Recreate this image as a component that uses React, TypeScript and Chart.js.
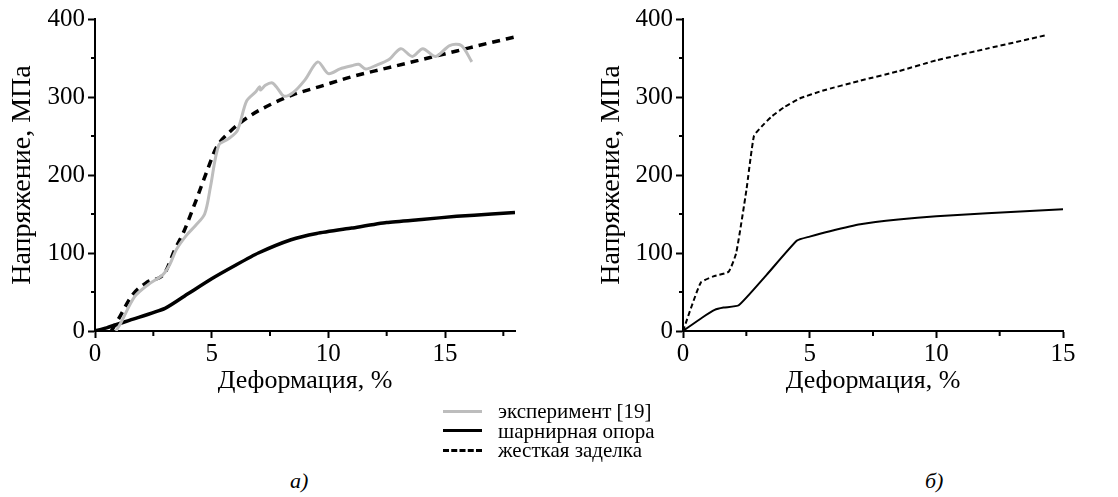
import React, { useEffect, useRef } from "react";
import { Chart, registerables } from "chart.js";

Chart.register(...registerables);

// ---- Panel (а) data ----
const expLeftX = [0.9, 1.1, 1.7, 2.3, 2.9, 3.2, 3.5, 3.9, 4.3, 4.7, 4.95, 5.3, 5.7, 6.1, 6.5, 6.9, 7.05, 7.1, 7.3, 7.6, 7.85, 8.1, 8.5, 9.0, 9.55, 10.0, 10.5, 11.0, 11.3, 11.6, 12.0, 12.6, 13.1, 13.6, 14.05, 14.6, 15.2, 15.7, 16.15];
const expLeftY = [0, 10, 44, 60, 72, 85, 105, 122, 135, 150, 185, 238, 246, 257, 295, 307, 313, 309, 315, 318, 310, 301, 306, 322, 345, 330, 336, 340, 342, 336, 340, 348, 362, 352, 362, 352, 366, 366, 345];

const hingeLeftX = [0, 0.5, 1.5, 3.0, 4.0, 5.0, 6.0, 7.0, 8.4, 9.5, 11, 12.5, 14, 15.5, 17, 18];
const hingeLeftY = [0, 4, 14, 29, 48, 67, 84, 100, 117, 125, 132, 139, 143, 147, 150, 152];

const rigidLeftX = [0.7, 1.0, 1.6, 2.2, 3.0, 3.4, 3.8, 4.3, 4.8, 5.2, 5.8, 6.6, 7.5, 8.5, 9.7, 11, 12.5, 14, 15.5, 17, 18];
const rigidLeftY = [0, 15, 46, 62, 75, 103, 127, 165, 205, 235, 256, 275, 290, 303, 314, 326, 337, 348, 359, 370, 377];

// ---- Panel (б) data ----
const hingeRightX = [0, 0.75, 1.25, 1.6, 2.2, 3.3, 4.5, 5.0, 5.8, 7.0, 8.5, 10, 12, 15];
const hingeRightY = [0, 17, 27, 30, 33, 72, 116, 121, 128, 137, 143, 147, 151, 156];

const rigidRightX = [0, 0.7, 1.2, 1.8, 2.1, 2.5, 2.8, 3.1, 3.5, 4.0, 4.6, 5.5, 7, 8.5, 10, 12, 14.3];
const rigidRightY = [0, 62, 70, 76, 100, 180, 250, 262, 275, 287, 298, 308, 321, 333, 347, 362, 379];

// ---- Axes / labels ----
const yTicks = [0, 100, 200, 300, 400];
const yMinorTicks = [50, 150, 250, 350];
const xTicksLeft = [0, 5, 10, 15];
const xMinorLeft = [2.5, 7.5, 12.5, 17.5];
const xTicksRight = [0, 5, 10, 15];
const xMinorRight = [2.5, 7.5, 12.5];
const yTitle = "Напряжение, МПа";
const xTitle = "Деформация, %";
const legendLabels = ["эксперимент [19]", "шарнирная опора", "жесткая заделка"];
const panelLabels = ["а)", "б)"];

const FONT = "'Liberation Serif', Tinos, 'Times New Roman', Times, 'Nimbus Roman', 'DejaVu Serif', serif";
const GRAY = "#bdbdbd";

const pts = (xs: number[], ys: number[]) => xs.map((x, i) => ({ x, y: ys[i] }));

function makeMinorPlugin(xMinor: number[], yMinor: number[]) {
  return {
    id: "minorTicks",
    afterDraw(chart: any) {
      const ctx = chart.ctx;
      const xs = chart.scales.x;
      const ys = chart.scales.y;
      const { left, bottom } = chart.chartArea;
      ctx.save();
      ctx.strokeStyle = "#000";
      ctx.lineWidth = 2;
      ctx.beginPath();
      yMinor.forEach((v) => {
        const p = ys.getPixelForValue(v);
        ctx.moveTo(left - 4, p);
        ctx.lineTo(left, p);
      });
      xMinor.forEach((v) => {
        const p = xs.getPixelForValue(v);
        ctx.moveTo(p, bottom);
        ctx.lineTo(p, bottom + 5);
      });
      ctx.stroke();
      ctx.restore();
    },
  };
}

interface PanelProps {
  datasets: any[];
  xMax: number;
  xTicks: number[];
  xMinor: number[];
  yAxisWidth: number;
  padRight: number;
  titlePad: number;
}

function Panel({ datasets, xMax, xTicks, xMinor, yAxisWidth, padRight, titlePad }: PanelProps) {
  const ref = useRef<HTMLCanvasElement>(null);
  useEffect(() => {
    if (!ref.current) return;
    const chart = new Chart(ref.current, {
      type: "line",
      data: { datasets },
      options: {
        responsive: false,
        animation: false,
        layout: { padding: { top: 19, right: padRight, left: 0, bottom: 0 } },
        plugins: { legend: { display: false }, tooltip: { enabled: false } },
        elements: { point: { radius: 0 } },
        scales: {
          x: {
            type: "linear",
            min: 0,
            max: xMax,
            afterBuildTicks: (s: any) => {
              s.ticks = xTicks.map((v) => ({ value: v }));
            },
            afterFit: (s: any) => {
              s.height = 69;
            },
            grid: { drawOnChartArea: false, drawTicks: true, tickLength: 7, tickColor: "#000", tickWidth: 2 },
            border: { display: true, color: "#000", width: 2 },
            ticks: { color: "#000", font: { family: FONT, size: 25 }, padding: 1, maxRotation: 0, autoSkip: false },
            title: { display: true, text: xTitle, color: "#000", font: { family: FONT, size: 26 }, padding: { top: 0, bottom: 3 } },
          },
          y: {
            type: "linear",
            min: 0,
            max: 400,
            afterBuildTicks: (s: any) => {
              s.ticks = yTicks.map((v) => ({ value: v }));
            },
            afterFit: (s: any) => {
              s.width = yAxisWidth;
            },
            grid: { drawOnChartArea: false, drawTicks: true, tickLength: 7, tickColor: "#000", tickWidth: 2 },
            border: { display: true, color: "#000", width: 2 },
            ticks: { color: "#000", font: { family: FONT, size: 25 }, padding: 3 },
            title: { display: true, text: yTitle, color: "#000", font: { family: FONT, size: 28 }, padding: { top: titlePad, bottom: 0 } },
          },
        },
      },
      plugins: [makeMinorPlugin(xMinor, yMinorTicks)],
    });
    return () => chart.destroy();
  }, []);
  return <canvas ref={ref} width={559} height={400} style={{ display: "block", width: 559, height: 400 }} />;
}

export default function App() {
  const leftSets = [
    { data: pts(expLeftX, expLeftY), borderColor: GRAY, borderWidth: 3, tension: 0.3, fill: false },
    { data: pts(hingeLeftX, hingeLeftY), borderColor: "#000", borderWidth: 3.5, tension: 0.2, fill: false },
    { data: pts(rigidLeftX, rigidLeftY), borderColor: "#000", borderWidth: 3.5, borderDash: [8, 6], cubicInterpolationMode: "monotone", fill: false },
  ];
  const rightSets = [
    { data: pts(hingeRightX, hingeRightY), borderColor: "#000", borderWidth: 2, tension: 0.15, fill: false },
    { data: pts(rigidRightX, rigidRightY), borderColor: "#000", borderWidth: 2, borderDash: [5, 3], tension: 0.15, fill: false },
  ];
  const legendStyles = [
    { borderTop: `3px solid ${GRAY}` },
    { borderTop: "3px solid #000" },
    { borderTop: "3px dashed #000" },
  ];
  return (
    <div style={{ position: "absolute", left: 0, top: 0, width: 1118, height: 497, background: "#fff", fontFamily: FONT }}>
      <div style={{ position: "absolute", left: 0, top: 0 }}>
        <Panel datasets={leftSets} xMax={18} xTicks={xTicksLeft} xMinor={xMinorLeft} yAxisWidth={95} padRight={44} titlePad={6} />
      </div>
      <div style={{ position: "absolute", left: 559, top: 0 }}>
        <Panel datasets={rightSets} xMax={15} xTicks={xTicksRight} xMinor={xMinorRight} yAxisWidth={124} padRight={55} titlePad={36} />
      </div>
      {legendLabels.map((t, i) => (
        <div key={i} style={{ position: "absolute", left: 443, top: 401 + i * 19.5, height: 20, display: "flex", alignItems: "center" }}>
          <div style={{ width: 39, height: 0, ...legendStyles[i] }} />
          <span style={{ marginLeft: 16, fontSize: 21, lineHeight: "20px", color: "#000", whiteSpace: "nowrap" }}>{t}</span>
        </div>
      ))}
      <div style={{ position: "absolute", left: 290, top: 468, fontSize: 22, fontStyle: "italic" }}>{panelLabels[0]}</div>
      <div style={{ position: "absolute", left: 925, top: 468, fontSize: 22, fontStyle: "italic" }}>{panelLabels[1]}</div>
    </div>
  );
}
